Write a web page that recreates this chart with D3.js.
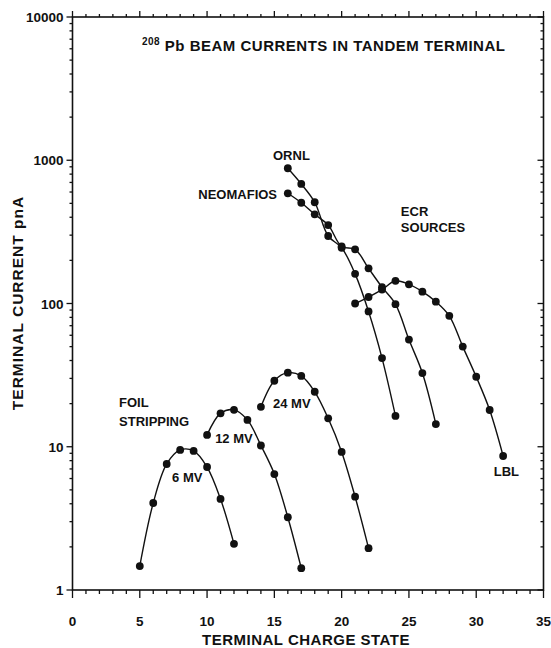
<!DOCTYPE html>
<html>
<head>
<meta charset="utf-8">
<script src="https://cdn.jsdelivr.net/npm/d3@7"></script>
<style>
  body { margin: 0; background: #fff; }
  text { font-family: "Liberation Sans", Arial, sans-serif; font-weight: bold; fill: #111; }
</style>
</head>
<body>
<div id="chart"></div>
<script>
// charge states and terminal currents (pnA)
var q6MV = [5, 6, 7, 8, 9, 10, 11, 12];
var i6MV = [1.47, 4.05, 7.58, 9.5, 9.35, 7.22, 4.32, 2.1];
var q12MV = [10, 11, 12, 13, 14, 15, 16, 17];
var i12MV = [12.1, 17.1, 18.1, 15.4, 10.2, 6.45, 3.22, 1.42];
var q24MV = [14, 15, 16, 17, 18, 19, 20, 21, 22];
var i24MV = [19.0, 28.9, 32.9, 31.2, 24.2, 15.8, 9.2, 4.48, 1.96];
var qORNL = [16, 17, 18, 19, 20, 21, 22, 23, 24];
var iORNL = [879, 683, 509, 296, 245, 161, 88, 41.6, 16.4];
var qNEO = [16, 17, 18, 19, 20, 21, 22, 23, 24, 25, 26, 27];
var iNEO = [588, 505, 419, 353, 250, 239, 176, 130, 99, 56, 32.7, 14.4];
var qLBL = [21, 22, 23, 24, 25, 26, 27, 28, 29, 30, 31, 32];
var iLBL = [100, 111, 125, 144, 136, 121, 103, 82, 50, 30.8, 18.05, 8.62];

var xTicks = [0, 5, 10, 15, 20, 25, 30, 35];
var yTicks = [1, 10, 100, 1000, 10000];

var labels = [
    {t: "ORNL", q: 14.9, v: 1004, a: "start"},
    {t: "NEOMAFIOS", q: 15.2, v: 536, a: "end"},
    {t: "ECR", q: 24.4, v: 408, a: "start"},
    {t: "SOURCES", q: 24.4, v: 316, a: "start"},
    {t: "LBL", q: 31.3, v: 6.25, a: "start"},
    {t: "FOIL", q: 3.46, v: 18.9, a: "start"},
    {t: "STRIPPING", q: 3.46, v: 13.96, a: "start"},
    {t: "24 MV", q: 14.9, v: 18.6, a: "start"},
    {t: "12 MV", q: 10.6, v: 10.6, a: "start"},
    {t: "6 MV", q: 7.4, v: 5.68, a: "start"}
];

var series = [
    [q6MV, i6MV], [q12MV, i12MV], [q24MV, i24MV],
    [qORNL, iORNL], [qNEO, iNEO], [qLBL, iLBL]
];

var width = 551, height = 648;
var pLeft = 72.5, pRight = 543.5, pTop = 17, pBottom = 590;

var svg = d3.select("#chart").append("svg")
    .attr("width", width).attr("height", height);

var x = d3.scaleLinear().domain([0, 35]).range([pLeft, pRight]);
var y = d3.scaleLog().domain([1, 10000]).range([pBottom, pTop]);

// minor ticks
var xMinor = d3.range(0, 36);
var yMinor = [];
for (var d = 1; d < 10000; d *= 10) {
    for (var k = 1; k < 10; ++k) yMinor.push(d * k);
}
yMinor.push(10000);

var g = svg.append("g").attr("stroke", "#111").attr("stroke-width", 1.3);

g.append("rect")
    .attr("x", pLeft).attr("y", pTop)
    .attr("width", pRight - pLeft).attr("height", pBottom - pTop)
    .attr("fill", "none").attr("stroke-width", 1.6);

// bottom and top ticks
g.selectAll("line.xb").data(xMinor).enter().append("line")
    .attr("x1", function(d) { return x(d); }).attr("x2", function(d) { return x(d); })
    .attr("y1", pBottom).attr("y2", function(d) { return pBottom + (d % 5 === 0 ? 8 : 4); });
g.selectAll("line.xt").data(xMinor).enter().append("line")
    .attr("x1", function(d) { return x(d); }).attr("x2", function(d) { return x(d); })
    .attr("y1", pTop).attr("y2", function(d) { return pTop - (d % 5 === 0 ? 6 : 3); });

// left and right ticks
function isMajor(d) { return yTicks.indexOf(d) !== -1; }
g.selectAll("line.yl").data(yMinor).enter().append("line")
    .attr("y1", function(d) { return y(d); }).attr("y2", function(d) { return y(d); })
    .attr("x1", pLeft).attr("x2", function(d) { return pLeft - (isMajor(d) ? 6 : 3); });
g.selectAll("line.yr").data(yMinor).enter().append("line")
    .attr("y1", function(d) { return y(d); }).attr("y2", function(d) { return y(d); })
    .attr("x1", pRight).attr("x2", function(d) { return pRight - (isMajor(d) ? 6 : 3); });

// tick labels
svg.selectAll("text.xl").data(xTicks).enter().append("text")
    .attr("x", function(d) { return x(d); }).attr("y", 626)
    .attr("text-anchor", "middle").attr("font-size", 13.5)
    .text(function(d) { return d; });
svg.selectAll("text.yl").data(yTicks).enter().append("text")
    .attr("x", pLeft - 9).attr("y", function(d) { return y(d) + 5; })
    .attr("text-anchor", "end").attr("font-size", 13.5)
    .text(function(d) { return d; });

svg.append("text")
    .attr("x", 306).attr("y", 645)
    .attr("text-anchor", "middle").attr("font-size", 15)
    .attr("letter-spacing", 0.5)
    .text("TERMINAL CHARGE STATE");
svg.append("text")
    .attr("transform", "translate(23,303) rotate(-90)")
    .attr("text-anchor", "middle").attr("font-size", 15.5)
    .attr("letter-spacing", 1)
    .text("TERMINAL CURRENT pnA");

var title = svg.append("text")
    .attr("x", 142).attr("y", 51).attr("font-size", 15)
    .attr("letter-spacing", 0.5);
title.append("tspan").attr("font-size", 10).attr("dy", -6).text("208");
title.append("tspan").attr("dy", 6).text(" Pb BEAM CURRENTS IN TANDEM TERMINAL");

// curves and points
var line = d3.line()
    .x(function(d) { return x(d[0]); })
    .y(function(d) { return y(d[1]); })
    .curve(d3.curveCatmullRom.alpha(0.5));

series.forEach(function(s) {
    var pts = s[0].map(function(q, i) { return [q, s[1][i]]; });
    svg.append("path").datum(pts)
        .attr("d", line)
        .attr("fill", "none").attr("stroke", "#111").attr("stroke-width", 1.4);
    svg.selectAll(null).data(pts).enter().append("circle")
        .attr("cx", function(d) { return x(d[0]); })
        .attr("cy", function(d) { return y(d[1]); })
        .attr("r", 3.9).attr("fill", "#111");
});

svg.selectAll("text.lab").data(labels).enter().append("text")
    .attr("x", function(d) { return x(d.q); })
    .attr("y", function(d) { return y(d.v); })
    .attr("text-anchor", function(d) { return d.a; })
    .attr("font-size", 13)
    .text(function(d) { return d.t; });
</script>
</body>
</html>
